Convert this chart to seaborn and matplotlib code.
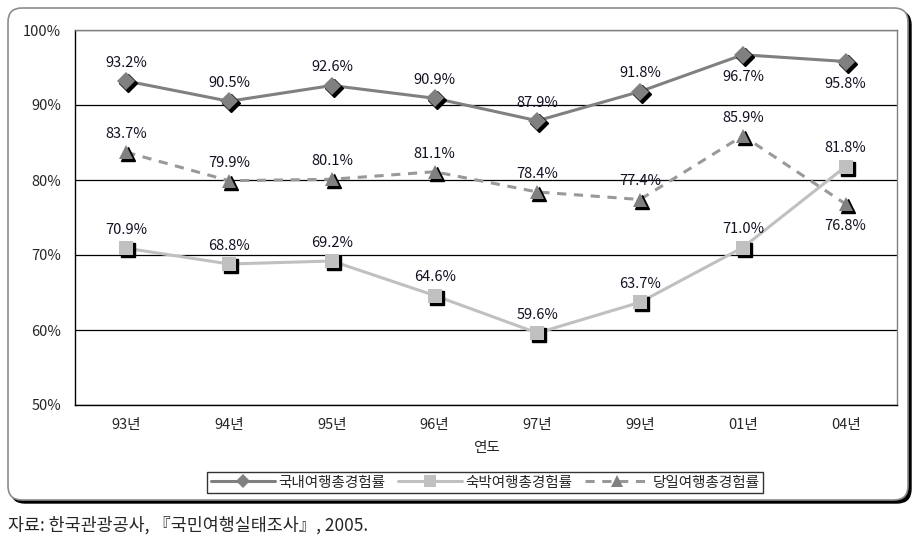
import matplotlib
matplotlib.use("Agg")
import matplotlib.pyplot as plt
import matplotlib.transforms as mtransforms
from matplotlib.patches import FancyBboxPatch
from matplotlib.lines import Line2D
import seaborn as sns
import numpy as np
import pandas as pd

# === Data
years = ["93년", "94년", "95년", "96년", "97년", "99년", "01년", "04년"]
domestic = [93.2, 90.5, 92.6, 90.9, 87.9, 91.8, 96.7, 95.8]
overnight = [70.9, 68.8, 69.2, 64.6, 59.6, 63.7, 71.0, 81.8]
daytrip = [83.7, 79.9, 80.1, 81.1, 78.4, 77.4, 85.9, 76.8]
series_names = ["국내여행총경험률", "숙박여행총경험률", "당일여행총경험률"]
yticks = [50, 60, 70, 80, 90, 100]
source_text = "자료: 한국관광공사, 『국민여행실태조사』, 2005."

# labels drawn below the marker instead of above
below = {0: [6, 7], 1: [], 2: [7]}

sns.set_style("white")
plt.rcParams["font.family"] = ["Noto Sans CJK KR", "DejaVu Sans"]

fig = plt.figure(figsize=(9.22, 5.45), dpi=100)
ax = fig.add_axes([75 / 922, 1 - 405 / 545, 822 / 922, 375 / 545])

# === Outer rounded frame with shadow (pixel coords)
ident = mtransforms.IdentityTransform()
shadow = FancyBboxPatch((11, 545 - 503), 900, 492, boxstyle="round,pad=0,rounding_size=14",
                        transform=ident, facecolor="black", edgecolor="black", zorder=-3)
frame = FancyBboxPatch((8, 545 - 500), 900, 492, boxstyle="round,pad=0,rounding_size=14",
                       transform=ident, facecolor="white", edgecolor="#8c8c8c", linewidth=1.2, zorder=-2)
fig.add_artist(shadow)
fig.add_artist(frame)

df = pd.DataFrame({"x": np.arange(len(years)), "d": domestic, "o": overnight, "t": daytrip})

styles = [
    dict(col="d", color="#808080", lc="#808080", marker="D", ms=9, ls="-"),
    dict(col="o", color="#c0c0c0", lc="#c0c0c0", marker="s", ms=10, ls="-"),
    dict(col="t", color="#808080", lc="#999999", marker="^", ms=10.5, ls=(0, (3, 2.5))),
]

shadow_tr = mtransforms.offset_copy(ax.transData, fig=fig, x=2, y=-2, units="dots")

for i, st in enumerate(styles):
    sns.lineplot(data=df, x="x", y=st["col"], ax=ax, color=st["lc"], linewidth=2.2,
                 linestyle=st["ls"], zorder=3)
    ax.plot(df["x"], df[st["col"]], linestyle="none", marker=st["marker"], markersize=st["ms"],
            color="black", transform=shadow_tr, zorder=4)
    ax.plot(df["x"], df[st["col"]], linestyle="none", marker=st["marker"], markersize=st["ms"],
            color=st["color"], markeredgewidth=0, zorder=5)
    for j, v in enumerate(df[st["col"]]):
        off = -16 if j in below[i] else 13
        ax.annotate(f"{v:.1f}%", (j, v), xytext=(0, off), textcoords="offset points",
                    ha="center", va="center", fontsize=10.5, color="#111122", zorder=6)

# === Axes styling
ax.set_xlim(-0.5, len(years) - 0.5)
ax.set_ylim(50, 100)
ax.set_yticks(yticks)
ax.set_yticklabels([f"{t}%" for t in yticks], fontsize=10.5)
ax.set_xticks(np.arange(len(years)))
ax.set_xticklabels(years, fontsize=10.5)
ax.set_xticks(np.arange(len(years) + 1) - 0.5, minor=True)
ax.tick_params(axis="x", which="major", direction="in", length=3, width=0.8, color="black", pad=9)
ax.tick_params(axis="x", which="minor", direction="in", length=5, width=0.8, color="black")
ax.tick_params(axis="y", length=0, pad=10)
ax.yaxis.grid(True, color="black", linewidth=0.9)
ax.set_axisbelow(True)
for side in ["left", "bottom"]:
    ax.spines[side].set_color("black")
    ax.spines[side].set_linewidth(1.0)
for side in ["top", "right"]:
    ax.spines[side].set_color("#808080")
    ax.spines[side].set_linewidth(1.0)
ax.set_xlabel("연도", fontsize=10.5, labelpad=7)
ax.set_ylabel("")

# === Legend
handles = [Line2D([0], [0], color=st["lc"], linewidth=2.2, linestyle=st["ls"], marker=st["marker"],
                  markersize=st["ms"] * 0.8, markerfacecolor=st["color"], markeredgewidth=0)
           for st in styles]
leg = fig.legend(handles, series_names, loc="center", bbox_to_anchor=(485 / 922, 1 - 482.5 / 545),
                 ncol=3, fontsize=10.5, frameon=True, fancybox=False, handlelength=4.4,
                 handletextpad=0.2, columnspacing=0.9, borderpad=0.25)
leg.get_frame().set_edgecolor("black")
leg.get_frame().set_linewidth(1.0)

fig.text(8 / 922, 1 - 525 / 545, source_text, ha="left", va="center", fontsize=12.5)

fig.savefig("out.png", dpi=100)
